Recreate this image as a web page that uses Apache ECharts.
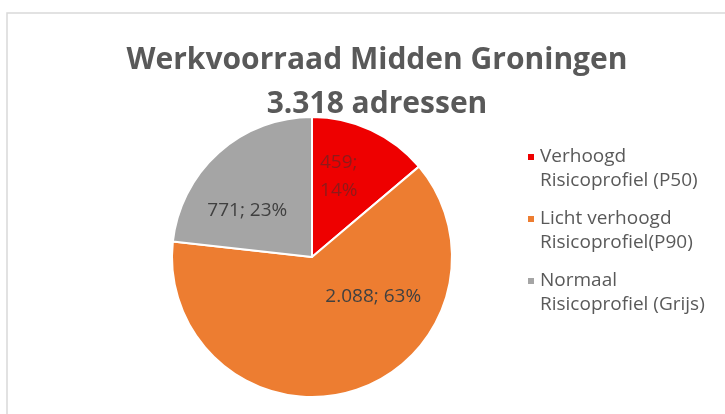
<!DOCTYPE html>
<html>
<head>
<meta charset="utf-8">
<style>
  html, body { margin: 0; padding: 0; background: #ffffff; }
  #chart { width: 725px; height: 414px; }
</style>
<script src="https://cdn.jsdelivr.net/npm/echarts@6/dist/echarts.min.js"></script>
</head>
<body>
<div id="chart"></div>
<script>
  // categorieen en waarden (adressen)
  const categories = [
    'Verhoogd\nRisicoprofiel (P50)',
    'Licht verhoogd\nRisicoprofiel(P90)',
    'Normaal\nRisicoprofiel (Grijs)'
  ]
  const values = [459, 2088, 771]
  const percents = [14, 63, 23]
  const valueLabels = ['459', '2.088', '771']
  const colors = ['#ee0000', '#ed7d31', '#a5a5a5']

  const chart = echarts.init(document.getElementById('chart'))

  // label positie per punt (Excel plaatst ze niet precies in het midden)
  const labelOffsets = [[-4, -14], [40, -30], [-16, 8]]
  const labelColors = ['#8e1a1a', '#404040', '#404040']
  const labelTexts = [
    valueLabels[0] + ';\n' + percents[0] + '%',
    valueLabels[1] + '; ' + percents[1] + '%',
    valueLabels[2] + '; ' + percents[2] + '%'
  ]

  const seriesData = categories.map((name, i) => {
    return {
      name: name,
      value: values[i],
      itemStyle: { color: colors[i] },
      label: {
        offset: labelOffsets[i],
        color: labelColors[i],
        formatter: labelTexts[i]
      }
    }
  })

  const option = {
    backgroundColor: '#ffffff',
    animation: false,
    graphic: [
      {
        type: 'rect',
        shape: { x: 7, y: 13, width: 760, height: 430 },
        style: { fill: 'none', stroke: '#d9d9d9', lineWidth: 1.5 },
        silent: true
      }
    ],
    title: {
      text: 'Werkvoorraad Midden Groningen\n3.318 adressen',
      left: 372,
      textAlign: 'center',
      top: 33,
      textStyle: {
        fontFamily: 'Open Sans',
        fontSize: 30,
        fontWeight: 'bold',
        lineHeight: 44,
        color: '#595959'
      }
    },
    legend: {
      orient: 'vertical',
      left: 521,
      top: 116,
      icon: 'rect',
      itemWidth: 8,
      itemHeight: 8,
      itemGap: -10,
      data: categories,
      // lege eerste regel zodat het blokje bij de eerste tekstregel staat
      formatter: name => ' \n' + name,
      textStyle: {
        fontFamily: 'Open Sans',
        fontSize: 19,
        lineHeight: 24,
        color: '#595959'
      }
    },
    series: [
      {
        type: 'pie',
        center: [312, 257],
        radius: 140,
        startAngle: 90,
        clockwise: true,
        itemStyle: { borderColor: '#ffffff', borderWidth: 2 },
        label: {
          show: true,
          position: 'inside',
          fontFamily: 'Open Sans',
          fontSize: 19,
          lineHeight: 28
        },
        labelLine: { show: false },
        emphasis: { disabled: true },
        data: seriesData
      }
    ]
  }
  chart.setOption(option)
</script>
</body>
</html>
